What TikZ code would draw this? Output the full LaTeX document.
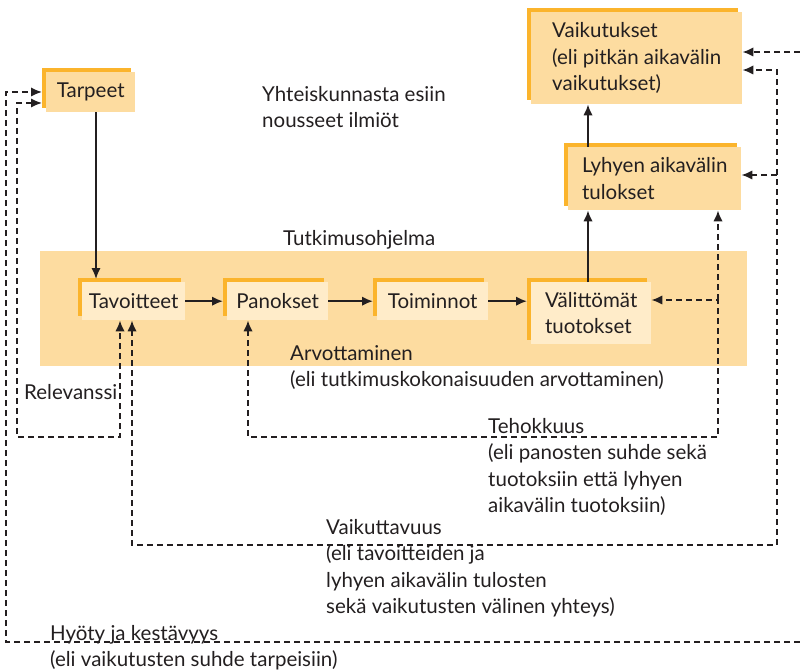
\documentclass[tikz,border=0pt]{standalone}
\usepackage{fontspec}
\setmainfont{Lato}
\usetikzlibrary{arrows.meta,shadows}
\definecolor{bandfill}{HTML}{FDDCA0}
\definecolor{edgeorange}{HTML}{FBB42C}
\definecolor{innerfill}{HTML}{FFECC9}
\definecolor{ink}{HTML}{231F20}

\begin{document}
\begin{tikzpicture}[x=1pt,y=-1pt,
  font=\fontsize{20.5}{26.5}\selectfont, text=ink,
  >={Latex[length=11pt,width=9.5pt]},
  box/.style={anchor=north west, inner sep=0pt, align=left,
    general shadow={shadow xshift=-4pt, shadow yshift=4pt, fill=edgeorange}},
  topbox/.style={box, fill=bandfill},
  stagebox/.style={box, fill=innerfill},
  lbl/.style={anchor=north west, inner sep=0pt, align=left},
  flow/.style={line width=2pt, draw=ink},
  loop/.style={flow, dash pattern=on 6pt off 4pt}]

\useasboundingbox (0,0) rectangle (800,671);

% research programme band
\node[fill=bandfill, anchor=north west, inner sep=0pt,
      minimum width=707pt, minimum height=115pt] (band) at (40,251) {};
\node[lbl] (prog) at (283,230) {Tutkimusohjelma};

% upper chain
\node[topbox, minimum width=89pt, minimum height=40pt] (tar) at (46,72) {Tarpeet};
\node[topbox, minimum width=211pt, minimum height=92pt] (vai) at (531,12)
  {Vaikutukset\\(eli pitkän aikavälin\\vaikutukset)};
\node[topbox, minimum width=173pt, minimum height=63pt] (lyh) at (568,147)
  {Lyhyen aikavälin\\tulokset};

% stages inside the band
\node[stagebox, minimum width=103pt, minimum height=38pt] (tav) at (82,282) {Tavoitteet};
\node[stagebox, minimum width=101pt, minimum height=38pt] (pan) at (227,282) {Panokset};
\node[stagebox, minimum width=111pt, minimum height=38pt] (toi) at (377,282) {Toiminnot};
\node[stagebox, minimum width=120pt, minimum height=62pt] (val) at (531,282)
  {Välittömät\\tuotokset};

% text labels
\node[lbl] (ilm) at (262,86) {Yhteiskunnasta esiin\\nousseet ilmiöt};
\node[lbl] (arv) at (290,345) {Arvottaminen\\(eli tutkimuskokonaisuuden arvottaminen)};
\node[lbl] (rel) at (24,384) {Relevanssi};
\node[lbl] (teh) at (488,418) {Tehokkuus\\(eli panosten suhde sekä\\tuotoksiin että lyhyen\\aikavälin tuotoksiin)};
\node[lbl] (vtv) at (326,519) {Vaikuttavuus\\(eli tavoitteiden ja\\lyhyen aikavälin tulosten\\sekä vaikutusten välinen yhteys)};
\node[lbl] (hyo) at (50,625) {Hyöty ja kestävyys\\(eli vaikutusten suhde tarpeisiin)};

% solid flow
\coordinate (xa) at (96,0);
\coordinate (xb) at (588,0);
\draw[flow,->,shorten >=3pt] (tar.south -| xa) -- (tav.north -| xa);
\draw[flow,->,shorten >=4pt] (tav) -- (pan);
\draw[flow,->,shorten >=4pt] (pan) -- (toi);
\draw[flow,->,shorten >=4pt] (toi.east) -- (toi.east -| val.west);
\draw[flow,->] (val.north -| xb) -- (lyh.south -| xb);
\draw[flow,->] (lyh.north -| xb) -- (vai.south -| xb);

% Hyöty ja kestävyys
\coordinate (h1) at (800,52);
\coordinate (h2) at (800,642);
\coordinate (h3) at (6,642);
\coordinate (h4) at (6,92);
\draw[loop,->] (h1) -- (h1 -| vai.east);
\draw[loop,->,shorten >=4pt] (h2) -- (h3) -- (h4) -- (h4 -| tar.west);

% Relevanssi
\coordinate (r1) at (17,103);
\coordinate (r2) at (17,437);
\coordinate (r3) at (120,437);
\draw[loop,<->,shorten <=4pt] (r1 -| tar.west) -- (r1) -- (r2) -- (r3) -- (r3 |- tav.south);

% Tehokkuus
\coordinate (t1) at (248,437);
\coordinate (t2) at (718,437);
\coordinate (t3) at (718,300);
\draw[loop,<->] (t1 |- pan.south) -- (t1) -- (t2) -- (t3) -- (t3 -| val.east);
\draw[loop,->] (t3) -- (t3 |- lyh.south);

% Vaikuttavuus
\coordinate (v1) at (132,545);
\coordinate (v2) at (777,545);
\coordinate (v3) at (777,70);
\coordinate (v4) at (777,175);
\draw[loop,<->] (v1 |- tav.south) -- (v1) -- (v2) -- (v3) -- (v3 -| vai.east);
\draw[loop,->] (v4) -- (v4 -| lyh.east);
\end{tikzpicture}
\end{document}
